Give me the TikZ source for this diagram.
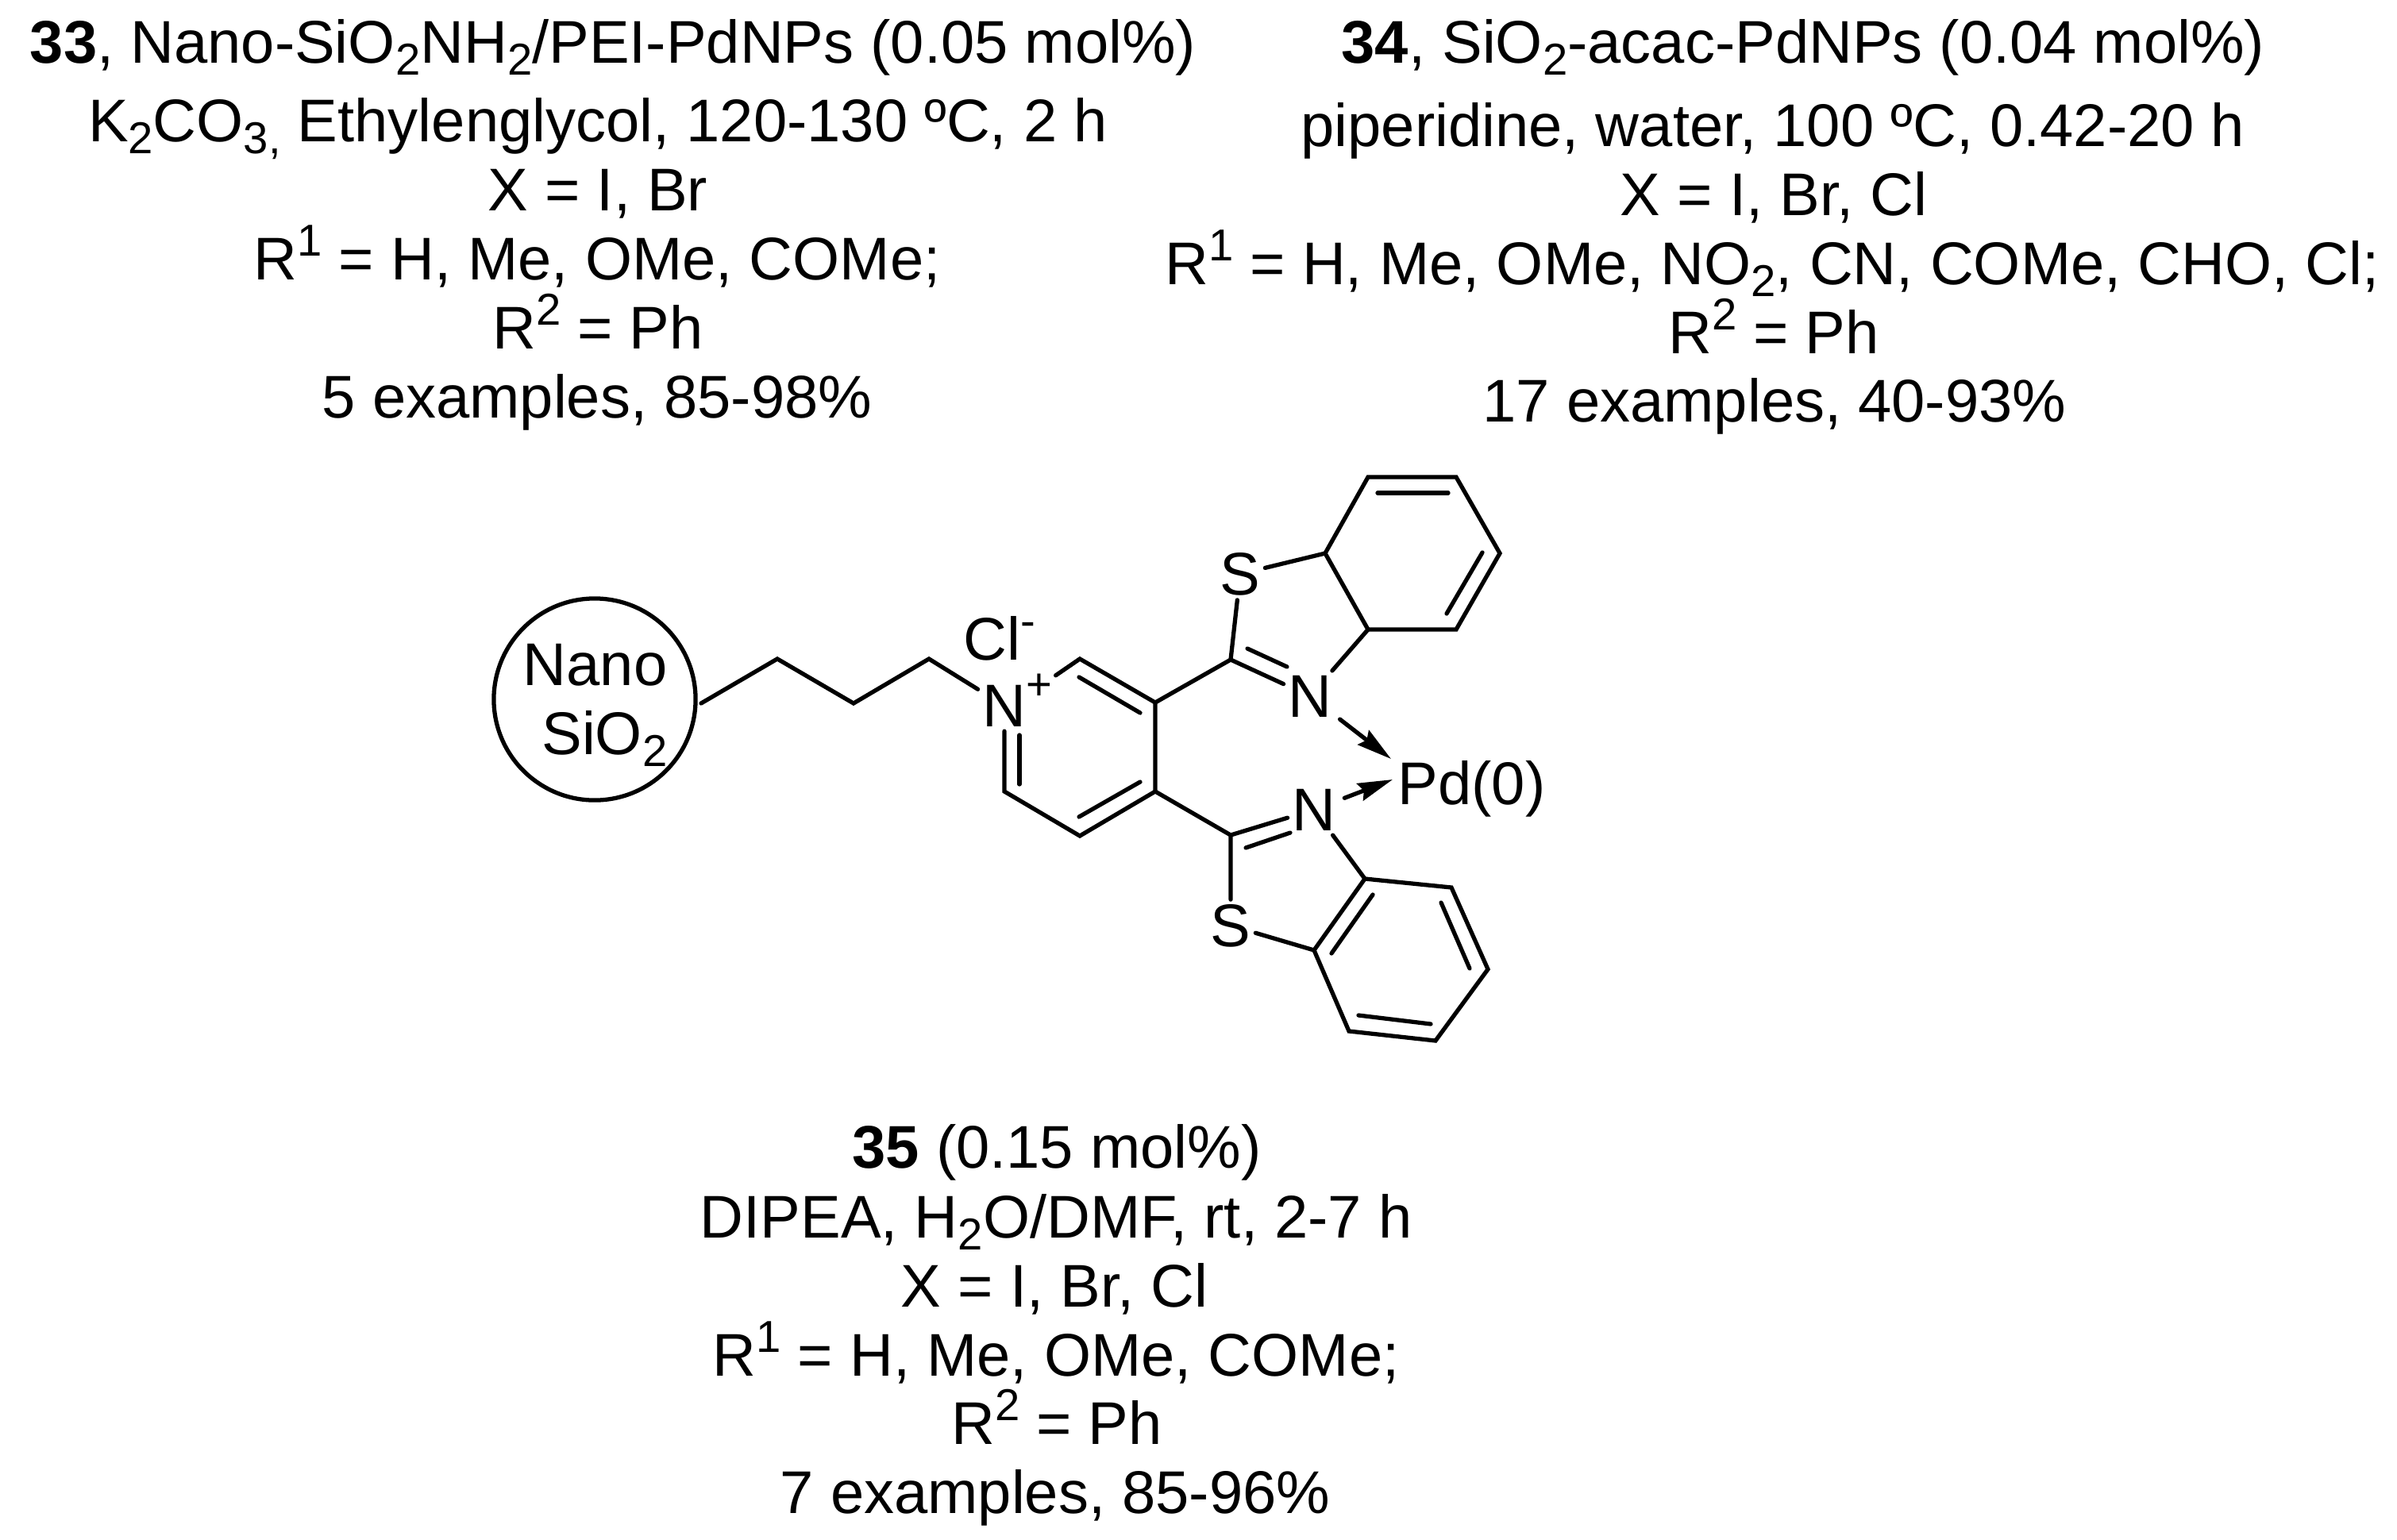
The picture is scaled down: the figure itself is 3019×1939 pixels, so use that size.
\documentclass[tikz,border=0pt]{standalone}
\usepackage{fontspec}
\setmainfont{Liberation Sans}
\usetikzlibrary{arrows.meta}
\newcommand{\lsub}[1]{\raisebox{-4.5pt}{\fontsize{16}{16}\selectfont #1}}
\newcommand{\lsup}[1]{\raisebox{8.5pt}{\fontsize{16}{16}\selectfont #1}}
\tikzset{
	txt/.style={anchor=base,inner sep=0pt,font=\fontsize{21.6}{24}\selectfont},
	atom/.style={inner sep=1.5pt,font=\fontsize{21.6}{24}\selectfont},
	bond/.style={line width=1.5pt,line join=miter,line cap=round},
	dative/.style={line width=1.5pt,line cap=round,shorten <=1.5pt,-{Stealth[length=12.5pt,width=6.5pt,inset=1.5pt]}}
}

\begin{document}
\begin{tikzpicture}[x=0.01cm,y=-0.01cm]
	\useasboundingbox (0,0) rectangle (3019,1939);
	\node[txt] (a1) at (772,79) {\textbf{33}, Nano-SiO\lsub{2}NH\lsub{2}/PEI-PdNPs (0.05 mol\%)};
	\node[txt] (a2) at (753,178) {K\lsub{2}CO\lsub{3,} Ethylenglycol, 120-130 ºC, 2 h};
	\node[txt] (a3) at (753,265) {X = I, Br};
	\node[txt] (a4) at (752,352) {R\lsup{1} = H, Me, OMe, COMe;};
	\node[txt] (a5) at (753,439) {R\lsup{2} = Ph};
	\node[txt] (a6) at (752,526) {5 examples, 85-98\%};
	\node[txt] (b1) at (2271,79) {\textbf{34}, SiO\lsub{2}-acac-PdNPs (0.04 mol\%)};
	\node[txt] (b2) at (2233,184) {piperidine, water, 100 ºC, 0.42-20 h};
	\node[txt] (b3) at (2234,271) {X = I, Br, Cl};
	\node[txt] (b4) at (2232,358) {R\lsup{1} = H, Me, OMe, NO\lsub{2}, CN, COMe, CHO, Cl;};
	\node[txt] (b5) at (2234,445) {R\lsup{2} = Ph};
	\node[txt] (b6) at (2235,531) {17 examples, 40-93\%};
	\node[txt] (e1) at (1331,1471) {\textbf{35} (0.15 mol\%)};
	\node[txt] (e2) at (1330,1559) {DIPEA, H\lsub{2}O/DMF, rt, 2-7 h};
	\node[txt] (e3) at (1328,1646) {X = I, Br, Cl};
	\node[txt] (e4) at (1330,1733) {R\lsup{1} = H, Me, OMe, COMe;};
	\node[txt] (e5) at (1331,1819) {R\lsup{2} = Ph};
	\node[txt] (e6) at (1329,1906) {7 examples, 85-96\%};

	\node[draw,circle,line width=1.5pt,minimum size=2.54cm] (nano) at (749,881) {};
	\node[txt,anchor=base east] (nanoa) at (841,863) {Nano};
	\node[txt,anchor=base east] (nanob) at (841,950) {SiO\lsub{2}};
	\node[atom] (n1) at (1265,889) {N};
	\node[inner sep=1pt,font=\fontsize{16}{16}\selectfont] (plus) at (1309,865) {+};
	\node[txt,anchor=base west] (cl) at (1213,831) {Cl\lsup{-}};
	\node[atom] (s1) at (1562,723) {S};
	\node[atom] (n2) at (1650,877) {N};
	\node[atom] (n3) at (1655,1020) {N};
	\node[atom] (s2) at (1550,1166) {S};
	\node[txt,anchor=base west] (pd) at (1760,1013) {Pd(0)};

	\coordinate (p0) at (883,886);
	\coordinate (p1) at (979,830);
	\coordinate (p2) at (1075,886);
	\coordinate (p3) at (1170,830);
	\coordinate (c2) at (1360,830);
	\coordinate (c3) at (1455,885);
	\coordinate (c4) at (1455,997);
	\coordinate (c5) at (1360,1053);
	\coordinate (c6) at (1265,997);
	\coordinate (u1) at (1550,831);
	\coordinate (u2) at (1669,697);
	\coordinate (u3) at (1723,793);
	\coordinate (u4) at (1723,601);
	\coordinate (u5) at (1834,601);
	\coordinate (u6) at (1889,697);
	\coordinate (u7) at (1834,793);
	\coordinate (l1) at (1550,1052);
	\coordinate (l2) at (1719,1107);
	\coordinate (l3) at (1655,1197);
	\coordinate (l4) at (1828,1118);
	\coordinate (l5) at (1874,1221);
	\coordinate (l6) at (1808,1311);
	\coordinate (l7) at (1699,1299);
	\coordinate (pdt) at (1752,956);
	\coordinate (pdb) at (1754,982);

	\coordinate (d1a) at (1359,853);
	\coordinate (d1b) at (1436,898);
	\coordinate (d2a) at (1436,985);
	\coordinate (d2b) at (1359,1029);
	\coordinate (d3a) at (1284,926);
	\coordinate (d3b) at (1284,988);
	\coordinate (d4a) at (1571,817);
	\coordinate (d4b) at (1621,840);
	\coordinate (d5a) at (1735,621);
	\coordinate (d5b) at (1824,621);
	\coordinate (d6a) at (1867,696);
	\coordinate (d6b) at (1822,773);
	\coordinate (d7a) at (1569,1068);
	\coordinate (d7b) at (1625,1049);
	\coordinate (d8a) at (1729,1127);
	\coordinate (d8b) at (1677,1201);
	\coordinate (d9a) at (1815,1137);
	\coordinate (d9b) at (1851,1220);
	\coordinate (d10a) at (1802,1290);
	\coordinate (d10b) at (1711,1279);

	\draw[bond] (p0) -- (p1) -- (p2) -- (p3) -- (n1);
	\draw[bond] (plus) -- (c2) -- (c3) -- (c4) -- (c5) -- (c6) -- (n1);
	\draw[bond] (d1a) -- (d1b);
	\draw[bond] (d2a) -- (d2b);
	\draw[bond] (d3a) -- (d3b);
	\draw[bond] (c3) -- (u1) -- (n2);
	\draw[bond] (d4a) -- (d4b);
	\draw[bond] (u1) -- (s1) -- (u2) -- (u3) -- (n2);
	\draw[bond] (u2) -- (u4) -- (u5) -- (u6) -- (u7) -- (u3);
	\draw[bond] (d5a) -- (d5b);
	\draw[bond] (d6a) -- (d6b);
	\draw[bond] (c4) -- (l1) -- (n3);
	\draw[bond] (d7a) -- (d7b);
	\draw[bond] (l1) -- (s2) -- (l3) -- (l2) -- (n3);
	\draw[bond] (l2) -- (l4) -- (l5) -- (l6) -- (l7) -- (l3);
	\draw[bond] (d8a) -- (d8b);
	\draw[bond] (d9a) -- (d9b);
	\draw[bond] (d10a) -- (d10b);
	\draw[dative] (n2) -- (pdt);
	\draw[dative] (n3) -- (pdb);
\end{tikzpicture}
\end{document}
